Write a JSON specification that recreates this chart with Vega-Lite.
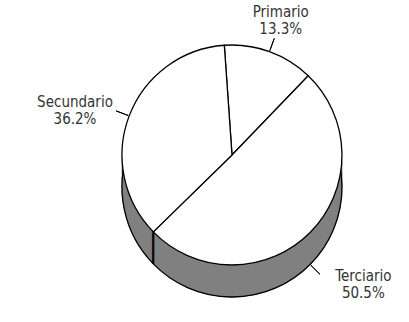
{
  "$schema": "https://vega.github.io/schema/vega-lite/v6.json",
  "width": 350,
  "height": 310,
  "autosize": "none",
  "padding": {"left": 57, "top": 0, "right": 2, "bottom": 12},
  "background": "white",
  "config": {
    "view": {"stroke": null},
    "text": {"font": "Liberation Sans Narrow, DejaVu Sans Condensed, sans-serif", "fontSize": 15, "fill": "#333333", "align": "center", "baseline": "middle"}
  },
  "data": {
    "values": [
      {"sector": "Primario", "share": 0.133, "rank": 1},
      {"sector": "Terciario", "share": 0.505, "rank": 2},
      {"sector": "Secundario", "share": 0.362, "rank": 3}
    ]
  },
  "transform": [
    {"stack": "share", "groupby": [], "sort": [{"field": "rank", "order": "ascending"}], "as": ["t0", "t1"]}
  ],
  "layer": [
    {
      "mark": {"type": "arc", "radius": 110, "fill": "#808080", "stroke": "#808080", "strokeWidth": 1, "yOffset": 32},
      "encoding": {
        "theta": {"field": "t0", "type": "quantitative", "scale": {"domain": [0, 1], "range": [-0.07, 6.2132]}},
        "theta2": {"field": "t1"}
      }
    },
    {
      "mark": {"type": "arc", "radius": 110, "fill": "#808080", "stroke": "#808080", "strokeWidth": 1, "yOffset": 21},
      "encoding": {
        "theta": {"field": "t0", "type": "quantitative", "scale": {"domain": [0, 1], "range": [-0.07, 6.2132]}},
        "theta2": {"field": "t1"}
      }
    },
    {
      "mark": {"type": "arc", "radius": 110, "fill": "#808080", "stroke": "#808080", "strokeWidth": 1, "yOffset": 11},
      "encoding": {
        "theta": {"field": "t0", "type": "quantitative", "scale": {"domain": [0, 1], "range": [-0.07, 6.2132]}},
        "theta2": {"field": "t1"}
      }
    },
    {
      "mark": {"type": "arc", "radius": 110, "radius2": 110, "fill": null, "stroke": "black", "strokeWidth": 1.3, "yOffset": 32},
      "encoding": {
        "theta": {"field": "t0", "type": "quantitative", "scale": {"domain": [0, 1], "range": [-0.07, 6.2132]}},
        "theta2": {"field": "t1"}
      }
    },
    {
      "mark": {"type": "arc", "radius": 110, "fill": "white", "stroke": "black", "strokeWidth": 1.3, "strokeJoin": "round"},
      "encoding": {
        "theta": {"field": "t0", "type": "quantitative", "scale": {"domain": [0, 1], "range": [-0.07, 6.2132]}},
        "theta2": {"field": "t1"}
      }
    },
    {
      "transform": [{"filter": "datum.sector === 'Terciario'"}],
      "mark": {"type": "text", "radius": 110, "font": "DejaVu Sans Mono", "fontSize": 27.5, "fill": "black", "align": "center", "baseline": "alphabetic", "dy": 25.5, "text": "│"},
      "encoding": {
        "theta": {"field": "t1", "type": "quantitative", "stack": null, "scale": {"domain": [0, 1], "range": [-0.07, 6.2132]}}
      }
    },
    {
      "transform": [
        {"fold": ["t0", "t1"], "as": ["edge", "angle"]},
        {"aggregate": [
          {"op": "mean", "field": "angle", "as": "mid"},
          {"op": "mean", "field": "share", "as": "share"}
        ], "groupby": ["sector"]}
      ],
      "encoding": {
        "theta": {"field": "mid", "type": "quantitative", "stack": null, "scale": {"domain": [0, 1], "range": [-0.07, 6.2132]}}
      },
      "layer": [
        {
          "transform": [{"filter": "datum.sector !== 'Terciario'"}],
          "mark": {"type": "arc", "radius": 124, "radius2": 111, "fill": null, "stroke": "black", "strokeWidth": 1},
          "encoding": {"theta2": {"field": "mid"}}
        },
        {
          "transform": [{"filter": "datum.sector === 'Terciario'"}],
          "mark": {"type": "arc", "radius": 124, "radius2": 111, "fill": null, "stroke": "black", "strokeWidth": 1, "yOffset": 32},
          "encoding": {"theta2": {"field": "mid"}}
        },
        {
          "transform": [{"filter": "datum.sector === 'Primario'"}],
          "layer": [
            {"mark": {"type": "text", "radius": 143, "dy": -9}, "encoding": {"text": {"field": "sector", "type": "nominal"}}},
            {"mark": {"type": "text", "radius": 143, "dy": 8}, "encoding": {"text": {"field": "share", "type": "quantitative", "format": ".1%"}}}
          ]
        },
        {
          "transform": [{"filter": "datum.sector === 'Secundario'"}],
          "layer": [
            {"mark": {"type": "text", "radius": 168, "dy": 7}, "encoding": {"text": {"field": "sector", "type": "nominal"}}},
            {"mark": {"type": "text", "radius": 168, "dy": 24}, "encoding": {"text": {"field": "share", "type": "quantitative", "format": ".1%"}}}
          ]
        },
        {
          "transform": [{"filter": "datum.sector === 'Terciario'"}],
          "layer": [
            {"mark": {"type": "text", "radius": 185, "dy": -9}, "encoding": {"text": {"field": "sector", "type": "nominal"}}},
            {"mark": {"type": "text", "radius": 185, "dy": 8}, "encoding": {"text": {"field": "share", "type": "quantitative", "format": ".1%"}}}
          ]
        }
      ]
    }
  ]
}
